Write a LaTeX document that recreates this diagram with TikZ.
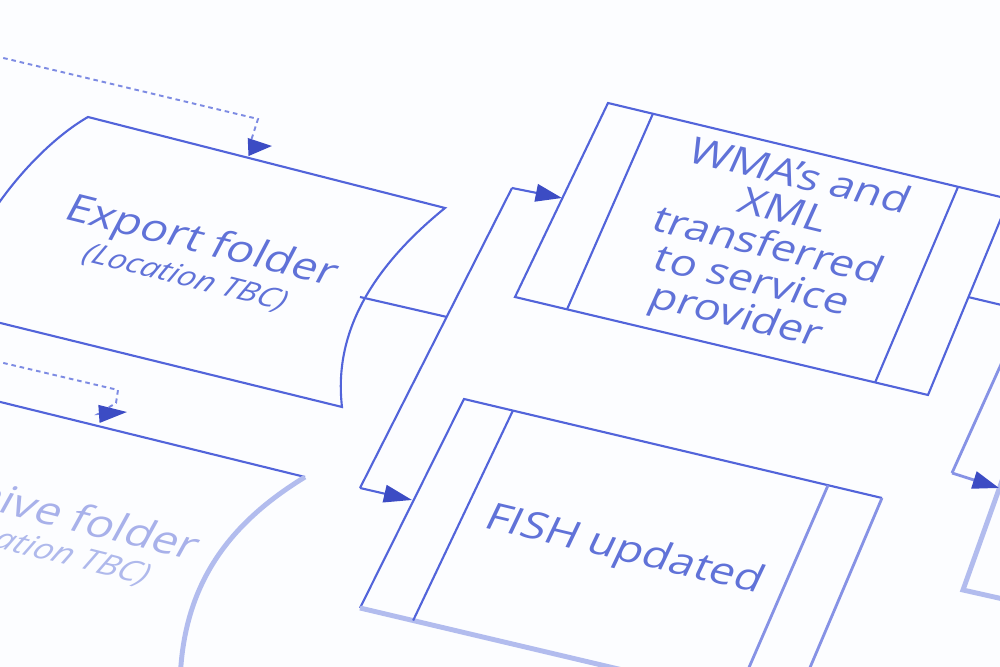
\documentclass[tikz,border=0pt]{standalone}
\usepackage{fontspec}
\setmainfont{Open Sans}
\usetikzlibrary{arrows.meta,calc}

\definecolor{paper}{RGB}{252,253,255}
\definecolor{ink}{RGB}{82,100,218}
\definecolor{inkdark}{RGB}{60,76,196}
\definecolor{inktext}{RGB}{96,114,216}
\definecolor{inkfaint}{RGB}{178,188,238}

\tikzset{
  boxline/.style={draw=ink, line width=0.6pt},
  softline/.style={draw=ink!70, line width=0.8pt},
  blurline/.style={draw=inkfaint, line width=1.4pt},
  dotline/.style={draw=ink!75, line width=0.55pt, dash pattern=on 1.3pt off 1.1pt},
  flowarrow/.style={-{Triangle[length=#1, width=5pt, color=inkdark]}},
  flowarrow/.default=7.5pt,
  pagetext/.style 2 args={text=inktext, inner sep=0pt, align=center, cm={1,#1,#2,0.8,(0,0)}}
}

\begin{document}
\begin{tikzpicture}[x=0.1mm, y=-0.1mm]
	\useasboundingbox (0,0) rectangle (1000,667);
	\clip (0,0) rectangle (1000,667);
	\fill[paper] (0,0) rectangle (1000,667);

	% export folder
	\coordinate (exp-nw) at (88,117);
	\coordinate (exp-ne) at (445,208);
	\coordinate (exp-se) at (342,407);
	\coordinate (exp-sw) at (-20,318);
	\draw[boxline] (-4,207) .. controls (25,165) and (60,133) .. (exp-nw) -- (exp-ne)
		.. controls (375,265) and (333,330) .. (exp-se) -- (exp-sw);
	\node[pagetext={-0.25}{0.42}, font=\fontsize{12.5}{14}\selectfont] (exportlbl) at (201,243) {Export folder};
	\node[pagetext={-0.25}{0.42}, font=\fontsize{9.1}{11}\selectfont\itshape] (exportsub) at (185,278) {(Location TBC)};

	% second folder, lower left
	\coordinate (arch-nw) at (-20,397);
	\coordinate (arch-ne) at (305,477);
	\draw[boxline] (arch-nw) -- (arch-ne);
	\draw[blurline] (arch-ne) .. controls (235,520) and (180,580) .. (180,690);
	\node[pagetext={-0.25}{0.44}, anchor=east, text=inktext!55, font=\fontsize{12.7}{14}\selectfont] (archlbl) at (199,547) {Archive folder};
	\node[pagetext={-0.25}{0.44}, anchor=east, text=inktext!50, font=\fontsize{9.6}{11}\selectfont\itshape] (archsub) at (149,577) {(Location TBC)};

	% WMA box
	\coordinate (wma-nw) at (608,103);
	\coordinate (wma-ne) at (1009,199);
	\coordinate (wma-se) at (928,395);
	\coordinate (wma-sw) at (515,297);
	\draw[boxline] (wma-nw) -- (wma-ne) -- (wma-se) -- (wma-sw) -- cycle;
	\draw[boxline] ($(wma-nw)!0.112!(wma-ne)$) -- ($(wma-sw)!0.126!(wma-se)$);
	\draw[boxline] ($(wma-nw)!0.873!(wma-ne)$) -- ($(wma-sw)!0.872!(wma-se)$);
	\node[pagetext={-0.24}{0.36}, font=\fontsize{12.3}{12.4}\selectfont] (wmalbl) at (767,248)
		{WMA's and\\XML\\transferred\\to service\\provider};

	% FISH box
	\coordinate (fish-nw) at (464,399);
	\coordinate (fish-ne) at (882,498);
	\coordinate (fish-se) at (792,710);
	\coordinate (fish-sw) at (360,608);
	\draw[boxline] (fish-sw) -- (fish-nw) -- (fish-ne);
	\draw[softline] (fish-ne) -- (fish-se);
	\draw[blurline] (fish-sw) -- (fish-se);
	\draw[boxline] ($(fish-nw)!0.117!(fish-ne)$) -- ($(fish-sw)!0.123!(fish-se)$);
	\draw[softline] ($(fish-nw)!0.871!(fish-ne)$) -- ($(fish-sw)!0.871!(fish-se)$);
	\node[pagetext={-0.24}{0.38}, font=\fontsize{12.5}{14}\selectfont] (fishlbl) at (624,551) {FISH updated};

	% box at the right edge
	\coordinate (far-nw) at (1003,478);
	\coordinate (far-sw) at (963,590);
	\coordinate (far-se) at (1012,601);
	\draw[blurline] (far-nw) -- (far-sw) -- (far-se);

	% connectors
	\coordinate (exp-out) at (360,297);
	\coordinate (bus-join) at (447,317);
	\coordinate (bus-top) at (512,188);
	\coordinate (bus-bot) at (360,488);
	\coordinate (wma-in) at (562,198);
	\coordinate (fish-in) at (412,500);
	\draw[boxline] (exp-out) -- (bus-join);
	\draw[boxline] (bus-top) -- (bus-bot);
	\draw[boxline, flowarrow] (bus-top) -- (wma-in);
	\draw[boxline, flowarrow=8pt] (bus-bot) -- (fish-in);

	\coordinate (wma-out) at (968,297);
	\coordinate (wma-out-end) at (1010,307);
	\coordinate (rbus-top) at (1012,340);
	\coordinate (rbus-bot) at (952,473);
	\coordinate (far-in) at (999,488);
	\draw[boxline] (wma-out) -- (wma-out-end);
	\draw[softline] (rbus-top) -- (rbus-bot);
	\draw[softline, flowarrow] (rbus-bot) -- (far-in);

	% dotted inputs from the left
	\coordinate (top-dot) at (-5,56);
	\coordinate (top-bend) at (258,119);
	\coordinate (top-drop) at (249,147);
	\coordinate (top-in) at (272,146);
	\draw[dotline, flowarrow=6.8pt] (top-dot) -- (top-bend) -- (top-drop) -- (top-in);
	\coordinate (low-dot) at (-5,361);
	\coordinate (low-bend) at (118,390);
	\coordinate (low-drop) at (116,403);
	\coordinate (low-back) at (98,414);
	\coordinate (low-in) at (127,412);
	\draw[dotline, flowarrow=8pt] (low-dot) -- (low-bend) -- (low-drop) -- (low-back) -- (low-in);
\end{tikzpicture}
\end{document}
